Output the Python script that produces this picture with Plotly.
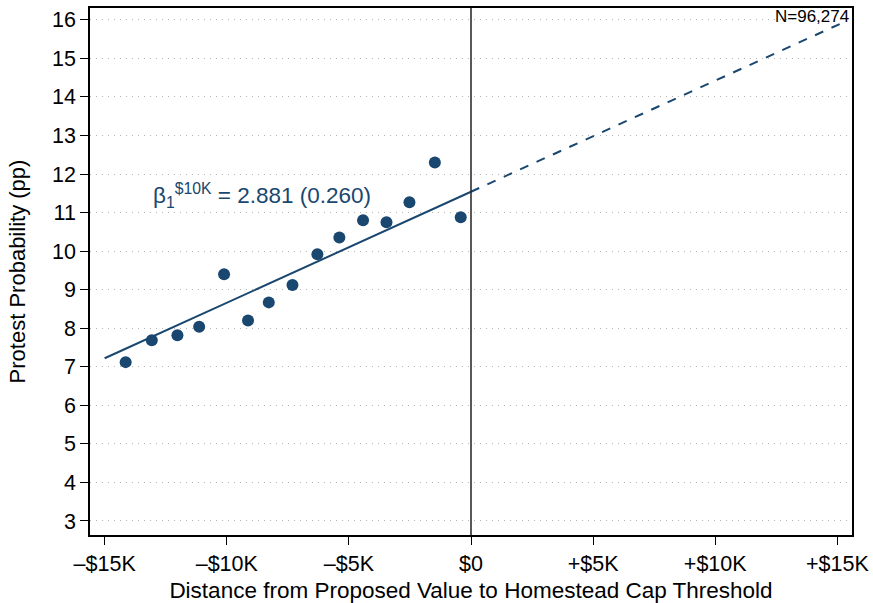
import plotly.graph_objects as go

# Binned means (distance in $K, protest probability in pp)
bin_x = [-14.14, -13.07, -12.02, -11.13, -10.11, -9.13, -8.28, -7.31, -6.29, -5.39, -4.42, -3.46, -2.52, -1.48, -0.42]
bin_y = [7.12, 7.69, 7.82, 8.04, 9.40, 8.20, 8.67, 9.12, 9.92, 10.35, 10.80, 10.75, 11.27, 12.30, 10.88]

# Fitted line (solid, below threshold) and extrapolation (dashed, above)
fit_x = [-15.0, 0.0]
fit_y = [7.22, 11.54]
ext_x = [0.0, 15.2]
ext_y = [11.54, 15.92]

x_tickvals = [-15, -10, -5, 0, 5, 10, 15]
x_ticktext = ["\u2013$15K", "\u2013$10K", "\u2013$5K", "$0", "+$5K", "+$10K", "+$15K"]
y_tickvals = list(range(3, 17))

navy = "#1a476f"
font = "Liberation Sans, Arial, Helvetica, sans-serif"

fig = go.Figure()
fig.add_trace(go.Scatter(x=fit_x, y=fit_y, mode="lines", line=dict(color=navy, width=2), showlegend=False))
fig.add_trace(go.Scatter(x=ext_x, y=ext_y, mode="lines", line=dict(color=navy, width=2, dash="dash"), showlegend=False))
fig.add_trace(go.Scatter(x=bin_x, y=bin_y, mode="markers", marker=dict(color=navy, size=12), showlegend=False))

fig.add_shape(type="line", x0=0, x1=0, y0=0, y1=1, xref="x", yref="paper", line=dict(color="#222222", width=1.5))

fig.add_annotation(x=-13.12, y=11.45, xref="x", yref="y", xanchor="left", yanchor="middle",
                   text="\u03b2<sub>1</sub><sup>$10K</sup> = 2.881 (0.260)", showarrow=False,
                   font=dict(family=font, size=22.5, color=navy))
fig.add_annotation(x=1, y=1, xref="paper", yref="paper", xanchor="right", yanchor="top",
                   text="N=96,274", showarrow=False, xshift=-1, yshift=3,
                   font=dict(family=font, size=17, color="black"))

fig.update_layout(
    width=873, height=603,
    margin=dict(l=90, r=21, t=8, b=68, autoexpand=False),
    plot_bgcolor="white", paper_bgcolor="white",
    font=dict(family=font, size=20, color="black"),
)
fig.update_xaxes(range=[-15.6, 15.6], tickvals=x_tickvals, ticktext=x_ticktext,
                 tickfont=dict(size=21.5), automargin=False,
                 showgrid=False, zeroline=False, showline=True, linecolor="black", linewidth=1.5,
                 mirror=True, ticks="outside", ticklen=8, tickcolor="black",
                 title=dict(text="Distance from Proposed Value to Homestead Cap Threshold",
                            font=dict(size=22.5), standoff=8))
fig.update_yaxes(range=[2.636, 16.306], tickvals=y_tickvals,
                 tickfont=dict(size=21.5), automargin=False,
                 showgrid=True, gridcolor="#b4b4b4", griddash="1px,5px", gridwidth=1,
                 zeroline=False, showline=True, linecolor="black", linewidth=1.5,
                 mirror=True, ticks="outside", ticklen=8, tickcolor="black",
                 title=dict(text="Protest Probability (pp)", font=dict(size=22), standoff=20))

fig.write_html("out.html", config={"displayModeBar": False},
               post_script="document.body.style.margin='0';")
